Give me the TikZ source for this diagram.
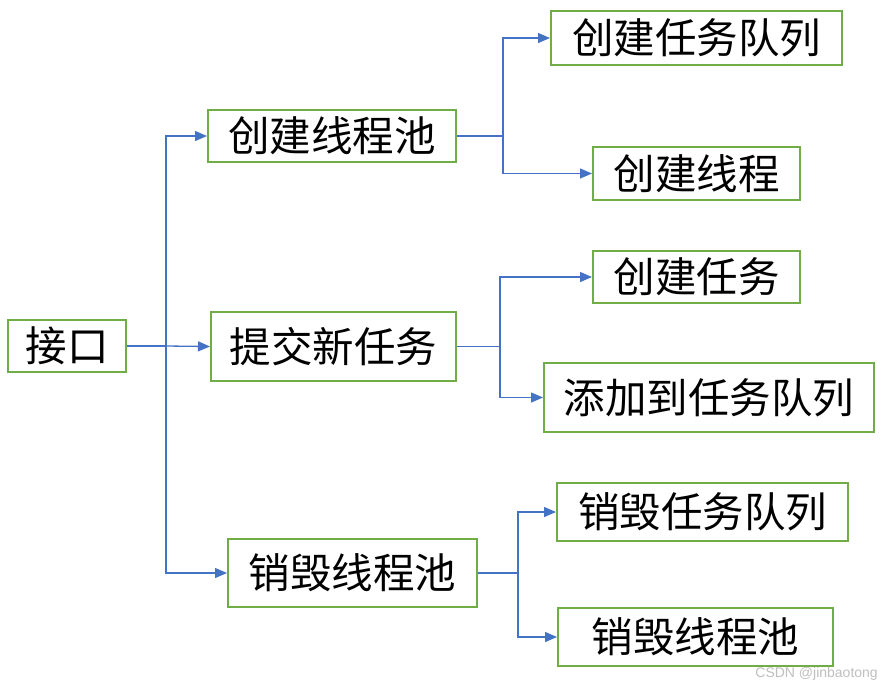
\documentclass[tikz,border=0pt]{standalone}
\usepackage{fontspec}
\newfontfamily\cjk{Noto Sans CJK SC}
\newfontfamily\wmfont{Liberation Sans}
\usetikzlibrary{arrows.meta}
\definecolor{boxgreen}{HTML}{70AD47}
\definecolor{lineblue}{HTML}{4472C4}
\tikzset{
  box/.style={draw=boxgreen, line width=2pt, inner sep=0pt, font=\cjk\fontsize{41.5}{48}\selectfont, anchor=center},
  arr/.style={draw=lineblue, line width=1.3pt, -{Triangle[length=12pt,width=10pt]}},
  ln/.style={draw=lineblue, line width=1.3pt}
}
\begin{document}
\begin{tikzpicture}[x=1pt,y=-1pt]
\useasboundingbox (0,0) rectangle (882,689);
\fill[white] (0,0) rectangle (882,689);
% left
\node[box, minimum width=118pt, minimum height=52pt] (jk) at (67,346) {接口};
% middle
\node[box, minimum width=248pt, minimum height=52pt] (m1) at (332,136) {创建线程池};
\node[box, minimum width=245pt, minimum height=69pt] (m2) at (333.5,346.5) {提交新任务};
\node[box, minimum width=249pt, minimum height=68pt] (m3) at (352.5,573) {销毁线程池};
% right
\node[box, minimum width=291pt, minimum height=54pt] (r1) at (696.5,38) {创建任务队列};
\node[box, minimum width=207pt, minimum height=53pt] (r2) at (696.5,173.5) {创建线程};
\node[box, minimum width=207pt, minimum height=52pt] (r3) at (696.5,277) {创建任务};
\node[box, minimum width=330pt, minimum height=69pt] (r4) at (709,397.5) {添加到任务队列};
\node[box, minimum width=291pt, minimum height=58pt] (r5) at (702.5,512) {销毁任务队列};
\node[box, minimum width=275pt, minimum height=58pt] (r6) at (695.5,637) {销毁线程池};
% junctions
\coordinate (j0) at (166,346);
\coordinate (j1) at (503,136);
\coordinate (j2) at (500,346.5);
\coordinate (j3) at (518,573);
% connectors
\draw[ln] (jk.east) -- (j0);
\draw[arr] (j0) |- (m1.west);
\draw[arr] (j0) -- (m2.west);
\draw[arr] (j0) |- (m3.west);
\draw[ln] (m1.east) -- (j1);
\draw[arr] (j1) |- (r1.west);
\draw[arr] (j1) |- (r2.west);
\draw[ln] (m2.east) -- (j2);
\draw[arr] (j2) |- (r3.west);
\draw[arr] (j2) |- (r4.west);
\draw[ln] (m3.east) -- (j3);
\draw[arr] (j3) |- (r5.west);
\draw[arr] (j3) |- (r6.west);
% watermark
\node[anchor=east, text=black!25, font=\wmfont\fontsize{14}{16}\selectfont, inner sep=0pt] (wm) at (878,674) {CSDN @jinbaotong};
\end{tikzpicture}
\end{document}
